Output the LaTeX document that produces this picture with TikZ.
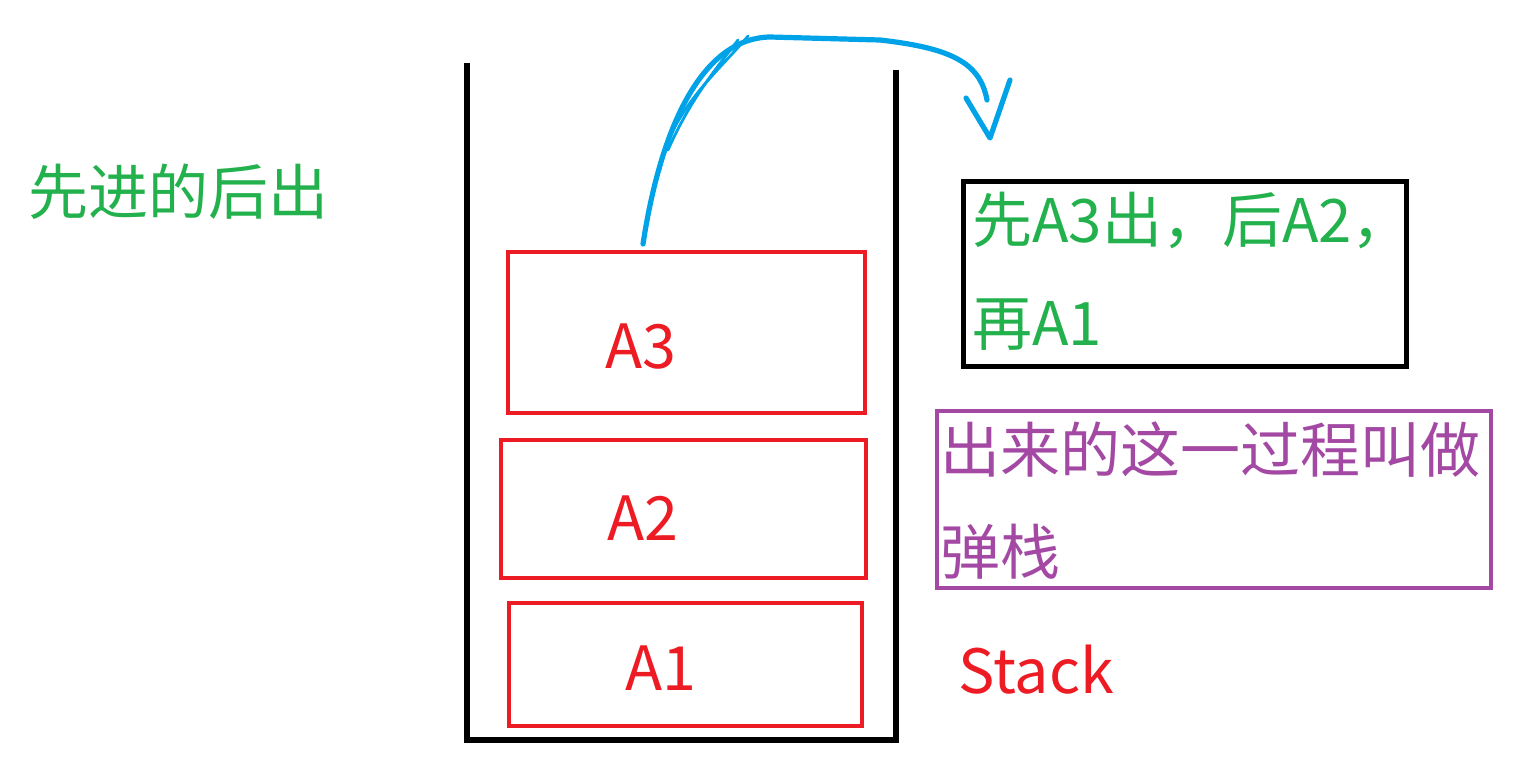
\documentclass[tikz,border=0pt]{standalone}
\usepackage{fontspec}
\setmainfont{Noto Sans CJK SC}
\definecolor{pgreen}{HTML}{22B14C}
\definecolor{pred}{HTML}{ED1C24}
\definecolor{ppurple}{HTML}{A349A4}
\definecolor{pblue}{HTML}{00A2E8}
\begin{document}
\begin{tikzpicture}[x=0.5pt,y=-0.5pt,
  txt/.style={inner sep=0pt,anchor=base west,font=\fontsize{30}{50}\selectfont},
  lbl/.style={inner sep=0pt,anchor=base west,font=\fontsize{30.5}{50}\selectfont,text=pred},
  cell/.style={draw=pred,line width=2.1pt,inner sep=0pt,anchor=north west},
  pen/.style={draw=pblue,line width=2.6pt,line cap=round,line join=round}]
\useasboundingbox (0,0) rectangle (1515,756);
% stack container
\coordinate (tl) at (467,63);
\coordinate (bl) at (467,740);
\coordinate (br) at (896,740);
\coordinate (tr) at (896,70);
\draw[line width=2.6pt,line join=miter] (tl) -- (bl) -- (br) -- (tr);
% cells
\node[cell,minimum width=178.5pt,minimum height=80.5pt] (c3) at (506,250) {};
\node[cell,minimum width=182.5pt,minimum height=69pt] (c2) at (499,438) {};
\node[cell,minimum width=176.5pt,minimum height=61.5pt] (c1) at (507,601) {};
\node[lbl] (t3) at (605,368) {A3};
\node[lbl] (t2) at (607,540) {A2};
\node[lbl] (t1) at (625,690) {A1};
\node[lbl] (stk) at (958,693) {Stack};
% left text
\node[txt,text=pgreen] (lt) at (28,214) {先进的后出};
% black box
\node[draw=black,line width=2.6pt,inner sep=0pt,anchor=north west,minimum width=221.5pt,minimum height=92.5pt] (bx1) at (961,179) {};
\node[txt,text=pgreen] (b1a) at (972,242) {先A3出，后A2，};
\node[txt,text=pgreen] (b1b) at (972,345) {再A1};
% purple box
\node[draw=ppurple,line width=2.1pt,inner sep=0pt,anchor=north west,minimum width=277pt,minimum height=88.5pt] (bx2) at (935,409) {};
\node[txt,text=ppurple] (b2a) at (940,472) {出来的这一过程叫做};
\node[txt,text=ppurple] (b2b) at (940,574) {弹栈};
% blue hand-drawn arrow
\coordinate (s) at (643,244);
\coordinate (m) at (770,37);
\coordinate (n) at (880,40);
\coordinate (e) at (987,100);
\coordinate (tip) at (990,138);
\coordinate (hl) at (966,98);
\coordinate (hr) at (1010,80);
\draw[pen] (s) .. controls (662,120) and (705,38) .. (m) -- (n) .. controls (950,48) and (980,62) .. (e);
\draw[pen,line width=1.4pt] (660,170) .. controls (670,110) and (720,70) .. (748,36);
\draw[pen,line width=1.4pt] (668,150) .. controls (690,100) and (715,70) .. (738,40);
\draw[pen] (hl) -- (tip) -- (hr);
\end{tikzpicture}
\end{document}
